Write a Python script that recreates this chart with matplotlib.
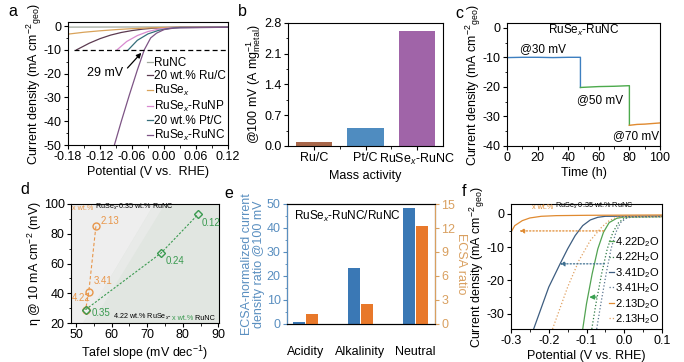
import numpy as np
import matplotlib
matplotlib.use("Agg")
import matplotlib.pyplot as plt
from matplotlib.patches import Polygon

plt.rcParams['font.family'] = ['Liberation Sans', 'DejaVu Sans']
plt.rcParams['mathtext.fontset'] = 'custom'
plt.rcParams['mathtext.rm'] = 'Liberation Sans'
plt.rcParams['mathtext.it'] = 'Liberation Sans:italic'
plt.rcParams['axes.unicode_minus'] = False
plt.rcParams['font.size'] = 9
plt.rcParams['axes.linewidth'] = 0.8
plt.rcParams['xtick.major.size'] = 3
plt.rcParams['ytick.major.size'] = 3
plt.rcParams['xtick.minor.size'] = 1.8
plt.rcParams['ytick.minor.size'] = 1.8
plt.rcParams['xtick.major.pad'] = 1.5
plt.rcParams['ytick.major.pad'] = 1.5

# ---- panel a: LSV curves (potential V, current mA cm-2) ----
a_names = ['RuNC', '20 wt.% Ru/C', 'RuSe$_x$', 'RuSe$_x$-RuNP', '20 wt.% Pt/C', 'RuSe$_x$-RuNC']
a_colors = ['#a3ab9f', '#5c3a50', '#d9a35a', '#d98ad0', '#356e7a', '#7d5485']
a_pot = [
    [-0.18, -0.06, 0.06, 0.12],
    [-0.164, -0.14, -0.12, -0.10, -0.08, -0.06, -0.04, -0.02, 0.0, 0.03, 0.12],
    [-0.18, -0.15, -0.12, -0.09, -0.06, -0.03, 0.0, 0.03, 0.12],
    [-0.088, -0.07, -0.05, -0.03, -0.01, 0.01, 0.03, 0.12],
    [-0.067, -0.05, -0.03, -0.01, 0.01, 0.03, 0.12],
    [-0.093, -0.08, -0.065, -0.05, -0.037, -0.025, -0.014, 0.0, 0.02, 0.12],
]
a_cur = [
    [-0.45, -0.4, -0.35, -0.35],
    [-10.0, -7.2, -5.3, -3.8, -2.7, -1.9, -1.3, -0.9, -0.7, -0.55, -0.5],
    [-3.4, -2.6, -2.0, -1.5, -1.1, -0.8, -0.6, -0.5, -0.5],
    [-10.0, -6.5, -4.0, -2.3, -1.3, -0.8, -0.6, -0.5],
    [-10.0, -6.0, -3.3, -1.8, -1.0, -0.6, -0.5],
    [-50.0, -40.0, -29.0, -18.5, -10.0, -5.0, -3.0, -1.5, -0.8, -0.5],
]

# ---- panel b: mass activity ----
b_names = ['Ru/C', 'Pt/C', 'RuSe$_x$-RuNC']
b_vals = [0.10, 0.40, 2.62]
b_colors = ['#a8674a', '#4f8cc0', '#a064a8']

# ---- panel c: chronoamperometry ----
c_t30 = [0, 10, 20, 30, 40, 48, 48]
c_j30 = [-10.1, -10.0, -10.0, -10.1, -10.0, -10.0, -20.2]
c_t50 = [48, 60, 70, 80, 80]
c_j50 = [-20.2, -19.9, -19.8, -19.6, -33.0]
c_t70 = [80, 85, 90, 100]
c_j70 = [-33.0, -32.7, -32.6, -32.2]

# ---- panel d: Tafel vs overpotential ----
d_tafel_ru = [55.6, 53.6, 52.7]
d_eta_ru = [85, 41, 29]
d_lab_ru = ['2.13', '3.41', '4.22']
d_tafel_nc = [52.7, 73.9, 84.3]
d_eta_nc = [29, 67, 93]
d_lab_nc = ['0.35', '0.24', '0.12']

# ---- panel e: ratios ----
e_cond = ['Acidity', 'Alkalinity', 'Neutral']
e_current_ratio = [1.0, 23.4, 48.2]
e_ecsa_ratio = [1.3, 2.5, 12.2]

# ---- panel f: H2O / D2O LSV ----
f_names = ['4.22D$_2$O', '4.22H$_2$O', '3.41D$_2$O', '3.41H$_2$O', '2.13D$_2$O', '2.13H$_2$O']
f_colors = ['#52a352', '#2f7a45', '#3d5d80', '#5a7590', '#e08a30', '#e0a060']
f_styles = ['-', ':', '-', ':', '-', ':']
f_pot = [
    [-0.110, -0.10, -0.085, -0.07, -0.055, -0.04, -0.02, 0.0, 0.1],
    [-0.086, -0.075, -0.06, -0.045, -0.03, -0.015, 0.0, 0.02, 0.1],
    [-0.24, -0.20, -0.17, -0.15, -0.13, -0.11, -0.09, -0.07, -0.05, 0.1],
    [-0.073, -0.062, -0.048, -0.035, -0.022, -0.01, 0.005, 0.02, 0.1],
    [-0.30, -0.29, -0.27, -0.25, -0.22, -0.18, -0.10, 0.1],
    [-0.19, -0.15, -0.12, -0.09, -0.06, -0.04, -0.02, 0.0, 0.1],
]
f_cur = [
    [-34.6, -27.0, -18.0, -10.5, -5.5, -2.6, -1.3, -0.9, -0.8],
    [-34.6, -27.0, -18.0, -10.5, -5.5, -2.6, -1.3, -0.9, -0.8],
    [-34.6, -22.0, -15.0, -10.5, -6.5, -3.5, -1.8, -1.0, -0.7, -0.6],
    [-34.6, -27.0, -18.0, -10.5, -5.5, -2.6, -1.3, -0.9, -0.8],
    [-5.5, -3.5, -2.0, -1.2, -0.7, -0.5, -0.4, -0.3],
    [-34.6, -22.0, -14.0, -8.0, -4.0, -2.0, -1.0, -0.8, -0.8],
]

W, H = 684, 362


def px_axes(fig, x0, x1, y0, y1):
    return fig.add_axes([x0 / W, 1 - y1 / H, (x1 - x0) / W, (y1 - y0) / H])


jlabel = 'Current density (mA cm$^{-2}$$_{\\rm geo}$)'

fig = plt.figure(figsize=(6.84, 3.62), dpi=100)

# ===== a =====
ax = px_axes(fig, 68, 228, 22, 145)
for p, c, col, name in zip(a_pot, a_cur, a_colors, a_names):
    ax.plot(p, c, color=col, lw=0.9, label=name)
ax.axhline(-10, xmin=0.04, xmax=1, color='k', ls='--', lw=0.9, dashes=(4, 2.5))
ax.annotate('', xy=(-0.039, -10.4), xytext=(-0.072, -18.5),
            arrowprops=dict(arrowstyle='-|>', color='k', lw=0.9, mutation_scale=7))
ax.text(-0.145, -19.8, '29 mV', va='center', fontsize=9)
ax.set_xlim(-0.18, 0.12)
ax.set_ylim(-50, 1.7)
ax.set_xticks([-0.18, -0.12, -0.06, 0.0, 0.06, 0.12])
ax.set_xticks(np.arange(-0.15, 0.12, 0.06), minor=True)
ax.set_xticklabels(['-0.18', '-0.12', '-0.06', '0.00', '0.06', '0.12'])
ax.set_yticks([0, -10, -20, -30, -40, -50])
ax.set_yticks([-5, -15, -25, -35, -45], minor=True)
ax.set_xlabel('Potential (V vs.  RHE)', labelpad=2)
ax.set_ylabel(jlabel, labelpad=0)
ax.legend(loc='lower right', bbox_to_anchor=(1.03, -0.045), frameon=False, fontsize=8.5,
          handlelength=0.5, handletextpad=0.1, labelspacing=0.08, borderaxespad=0.2)
fig.text(8 / W, 1 - 12 / H, 'a', fontsize=11.5, va='center')

# ===== b =====
ax = px_axes(fig, 288, 443, 23, 146)
ax.bar(range(3), b_vals, width=0.7, color=b_colors)
ax.set_xlim(-0.5, 2.5)
ax.set_ylim(0, 2.8)
ax.set_xticks(range(3))
ax.set_xticklabels(b_names)
ax.set_xticks([0.5, 1.5], minor=True)
ax.set_yticks([0, 0.7, 1.4, 2.1, 2.8])
ax.set_yticks([0.35, 1.05, 1.75, 2.45], minor=True)
ax.set_yticklabels(['0.0', '0.7', '1.4', '2.1', '2.8'])
ax.set_xlabel('Mass activity', labelpad=2)
ax.set_ylabel('@100 mV (A mg$^{-1}_{\\rm metal}$)', labelpad=1)
fig.text(238 / W, 1 - 12 / H, 'b', fontsize=11.5, va='center')

# ===== c =====
ax = px_axes(fig, 507, 660, 23, 146)
ax.plot(c_t30, c_j30, color='#3d7fc0', lw=1.0)
ax.plot(c_t50, c_j50, color='#4caa4c', lw=1.0)
ax.plot(c_t70, c_j70, color='#e08a30', lw=1.0)
ax.text(50, -1.0, 'RuSe$_x$-RuNC', ha='center', va='center', fontsize=8.5)
ax.text(8.5, -7.2, '@30 mV', va='center', fontsize=8.5)
ax.text(45.5, -24.5, '@50 mV', va='center', fontsize=8.5)
ax.text(69, -36.7, '@70 mV', va='center', fontsize=8.5)
ax.set_xlim(0, 100)
ax.set_ylim(-40, 1.6)
ax.set_xticks(range(0, 101, 20))
ax.set_xticks(range(10, 100, 20), minor=True)
ax.set_yticks([0, -10, -20, -30, -40])
ax.set_yticks([-5, -15, -25, -35], minor=True)
ax.set_xlabel('Time (h)', labelpad=2)
ax.set_ylabel(jlabel, labelpad=0)
fig.text(455 / W, 1 - 13 / H, 'c', fontsize=11.5, va='center')

# ===== d =====
ax = px_axes(fig, 71, 219, 204, 323)
ax.set_facecolor('#e1e6e1')
ax.add_patch(Polygon([(48.5, 20), (52, 20), (72, 100), (48.5, 100)], closed=True,
                     facecolor='#eeeeee', edgecolor='none', zorder=0))
ax.add_patch(Polygon([(52, 20), (54.5, 20), (75, 100), (72, 100)], closed=True,
                     facecolor='#e8eae8', edgecolor='none', zorder=0))
ax.plot(d_tafel_ru, d_eta_ru, ls='--', color='#e8964a', lw=0.8, marker='o', ms=5,
        mfc='none', mec='#e8964a', mew=1.0, dashes=(3, 2))
ax.plot(d_tafel_nc, d_eta_nc, ls='--', color='#3a9a50', lw=0.8, marker='D', ms=4.5,
        mfc='none', mec='#3a9a50', mew=1.0, dashes=(2, 1.5))
for lab, xy in zip(d_lab_ru, [(56.8, 88.8), (55.0, 48), (48.7, 37)]):
    ax.text(xy[0], xy[1], lab, color='#e8964a', fontsize=7, va='center')
for lab, xy in zip(d_lab_nc, [(54.3, 26.5), (75.3, 61.5), (85.2, 87.5)]):
    ax.text(xy[0], xy[1], lab, color='#3a9a50', fontsize=7, va='center')
t1 = ax.text(48.9, 96.8, 'x wt.%', color='#e8964a', fontsize=5.2, va='center')
ax.annotate(' RuSe$_x$-0.35 wt.% RuNC', xy=(1, 0), xycoords=t1, va='bottom', fontsize=5.2)
t2 = ax.text(60.4, 24.3, '4.22 wt.% RuSe$_x$-', fontsize=5.2, va='center')
t3 = ax.annotate('x wt.%', xy=(1, 0), xycoords=t2, va='bottom', fontsize=5.2, color='#3a9a50')
ax.annotate(' RuNC', xy=(1, 0), xycoords=t3, va='bottom', fontsize=5.2)
ax.set_xlim(48.6, 90.2)
ax.set_ylim(20, 100)
ax.set_xticks(range(50, 91, 10))
ax.set_xticks(range(55, 90, 10), minor=True)
ax.set_yticks(range(20, 101, 20))
ax.set_yticks(range(30, 100, 20), minor=True)
ax.set_xlabel('Tafel slope (mV dec$^{-1}$)', labelpad=2)
ax.set_ylabel('η @ 10 mA cm$^{-2}$ (mV)', labelpad=0)
fig.text(20 / W, 1 - 190 / H, 'd', fontsize=11.5, va='center')

# ===== e =====
ax = px_axes(fig, 287, 435, 204, 324)
ax2 = ax.twinx()
xpos = np.arange(3)
ax.bar(xpos - 0.115, e_current_ratio, width=0.22, color='#3a78b5')
ax2.bar(xpos + 0.115, e_ecsa_ratio, width=0.22, color='#e8782a')
ax.set_xlim(-0.33, 2.35)
ax.set_ylim(0, 50)
ax2.set_ylim(0, 15)
ax.set_xticks(xpos)
ax.set_xticklabels(e_cond)
ax.tick_params(axis='x', length=0, pad=16)
lc, rc = '#5a8fc0', '#d9a060'
ax.set_yticks(range(0, 51, 10))
ax.set_yticks(range(5, 50, 10), minor=True)
ax.tick_params(axis='y', which='both', colors=lc)
ax2.set_yticks(range(0, 16, 3))
ax2.tick_params(axis='y', which='both', colors=rc)
ax2.spines['left'].set_color(lc)
ax2.spines['right'].set_color(rc)
ax.set_ylabel('ECSA-normalized current\ndensity ratio @100 mV', color=lc, labelpad=1,
              linespacing=1.0)
ax2.set_ylabel('ECSA ratio', color=rc, labelpad=0, rotation=270, va='bottom')
ax.text(0.05, 0.9, 'RuSe$_x$-RuNC/RuNC', transform=ax.transAxes, fontsize=8.5, va='center')
fig.text(224 / W, 1 - 193 / H, 'e', fontsize=11.5, va='center')

# ===== f =====
ax = px_axes(fig, 511, 662, 204, 329)
for p, c, col, ls, name in zip(f_pot, f_cur, f_colors, f_styles, f_names):
    ax.plot(p, c, color=col, ls=ls, lw=0.9, label=name)
ax.annotate('', xy=(-0.285, -5.1), xytext=(-0.047, -5.1),
            arrowprops=dict(arrowstyle='-|>', color='#e08a30', lw=0.9, ls=':', mutation_scale=7))
ax.annotate('', xy=(-0.178, -15), xytext=(-0.045, -15),
            arrowprops=dict(arrowstyle='-|>', color='#3d6f90', lw=0.9, ls=':', mutation_scale=7))
ax.annotate('', xy=(-0.1, -25), xytext=(-0.066, -25),
            arrowprops=dict(arrowstyle='-|>', color='#3aa050', lw=0.9, mutation_scale=7))
t4 = ax.text(-0.245, 2.0, 'x wt.%', color='#e08a30', fontsize=5.2, va='center')
ax.annotate(' RuSe$_x$ 0.35 wt.% RuNC', xy=(1, 0), xycoords=t4, va='bottom', fontsize=5.2)
ax.set_xlim(-0.3, 0.1)
ax.set_ylim(-34.6, 3)
ax.set_xticks([-0.3, -0.2, -0.1, 0.0, 0.1])
ax.set_xticks([-0.25, -0.15, -0.05, 0.05], minor=True)
ax.set_yticks([0, -10, -20, -30])
ax.set_yticks([-5, -15, -25], minor=True)
ax.set_xlabel('Potential (V vs. RHE)', labelpad=2)
ax.set_ylabel(jlabel, labelpad=0)
ax.legend(loc='lower right', bbox_to_anchor=(1.03, -0.03), frameon=False, fontsize=8,
          handlelength=0.5, handletextpad=0.1, labelspacing=0.15, borderaxespad=0.2)
fig.text(462 / W, 1 - 192 / H, 'f', fontsize=11.5, va='center')

for a in fig.axes:
    a.tick_params(which='both', direction='out')

fig.savefig('out.png', dpi=100)
